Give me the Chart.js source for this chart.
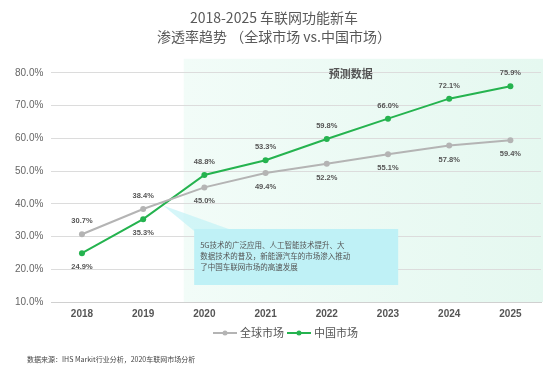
<!DOCTYPE html>
<html><head><meta charset="utf-8">
<script src="https://cdn.jsdelivr.net/npm/chart.js@4/dist/chart.umd.min.js"></script>
<style>html,body{margin:0;padding:0;background:#fff}#wrap{width:550px;height:379px}</style>
</head><body><div id="wrap"><canvas id="c" width="550" height="379"></canvas></div>
<script>
const years = ['2018','2019','2020','2021','2022','2023','2024','2025'];
const globalMarket = [30.7, 38.4, 45.0, 49.4, 52.2, 55.1, 57.8, 59.4];
const chinaMarket = [24.9, 35.3, 48.8, 53.3, 59.8, 66.0, 72.1, 75.9];
const yTicks = [10, 20, 30, 40, 50, 60, 70, 80];
const titleLines = ['2018-2025 车联网功能新车', '渗透率趋势 （全球市场 vs.中国市场）'];
const seriesNames = ['全球市场', '中国市场'];
const seriesColors = ['#b4b4b4', '#25b34f'];
const forecastLabel = '预测数据';
const calloutLines = ['5G技术的广泛应用、人工智能技术提升、大', '数据技术的普及，新能源汽车的市场渗入推动', '了中国车联网市场的高速发展'];
const sourceText = '数据来源：IHS Markit行业分析，2020车联网市场分析';
// label placement: true = above point
const globalAbove = [true, true, false, false, false, false, false, false];
const chinaAbove = [false, false, true, true, true, true, true, true];

const FONT = "'Liberation Sans', Arial, 'Noto Sans CJK SC', sans-serif";
const CJK = "'Noto Sans CJK SC', 'Liberation Sans', sans-serif";

const decor = {
  id: 'decor',
  beforeDraw(chart) {
    const ctx = chart.ctx, a = chart.chartArea, x = chart.scales.x;
    const x0 = (x.getPixelForValue(1) + x.getPixelForValue(2)) / 2 + 10;
    const x1 = a.right + 2;
    ctx.save();
    const g = ctx.createLinearGradient(x0, 0, x1, 0);
    g.addColorStop(0, 'rgba(242,252,248,1)');
    g.addColorStop(1, 'rgba(229,248,240,1)');
    ctx.fillStyle = g;
    ctx.fillRect(x0, a.top - 14, x1 - x0, a.bottom - a.top + 14);
    ctx.restore();
  },
  beforeDatasetsDraw(chart) {
    const ctx = chart.ctx, a = chart.chartArea, x = chart.scales.x, y = chart.scales.y;
    ctx.save();
    // forecast label
    ctx.fillStyle = '#555';
    ctx.font = 'bold 11px ' + CJK;
    ctx.textAlign = 'center'; ctx.textBaseline = 'middle';
    ctx.fillText(forecastLabel, x.getPixelForValue(4) + 24, a.top + 1);
    // callout
    const bx = x.getPixelForValue(1) + 51, by = y.getPixelForValue(32.3);
    const bw = 204, bh = 56;
    ctx.fillStyle = 'rgba(191,241,246,0.65)';
    ctx.beginPath();
    ctx.moveTo(x.getPixelForValue(1) + 20, y.getPixelForValue(39.5));
    ctx.lineTo(bx, by + 2);
    ctx.lineTo(bx + 40, by + 2);
    ctx.closePath();
    ctx.fill();
    ctx.fillStyle = '#bff1f6';
    ctx.fillRect(bx, by, bw, bh);
    ctx.fillStyle = '#555';
    ctx.font = '7.5px ' + CJK;
    ctx.textAlign = 'left'; ctx.textBaseline = 'middle';
    calloutLines.forEach((t, i) => ctx.fillText(t, bx + 6, by + 16 + i * 11));
    ctx.restore();
  },
  afterDatasetsDraw(chart) {
    const ctx = chart.ctx;
    ctx.save();
    ctx.font = 'bold 7.5px ' + FONT;
    ctx.fillStyle = '#555';
    ctx.textAlign = 'center'; ctx.textBaseline = 'middle';
    const sets = [[globalMarket, globalAbove], [chinaMarket, chinaAbove]];
    sets.forEach(([vals, above], di) => {
      const meta = chart.getDatasetMeta(di);
      meta.data.forEach((pt, i) => {
        const dy = above[i] ? -13 : 14;
        ctx.fillText(vals[i].toFixed(1) + '%', pt.x, pt.y + dy);
      });
    });
    // legend
    ctx.font = '11px ' + CJK;
    ctx.textAlign = 'left';
    const ly = 333;
    let lx = 213;
    seriesNames.forEach((name, i) => {
      ctx.strokeStyle = seriesColors[i]; ctx.fillStyle = seriesColors[i];
      ctx.lineWidth = 2;
      ctx.beginPath(); ctx.moveTo(lx, ly); ctx.lineTo(lx + 24, ly); ctx.stroke();
      ctx.beginPath(); ctx.arc(lx + 12, ly, 2.5, 0, Math.PI * 2); ctx.fill();
      ctx.fillStyle = '#555';
      ctx.fillText(name, lx + 27, ly);
      lx += 27 + ctx.measureText(name).width + 3;
    });
    // source
    ctx.font = '7px ' + CJK;
    ctx.fillStyle = '#444';
    ctx.fillText(sourceText, 27, 359);
    ctx.restore();
  }
};

new Chart(document.getElementById('c'), {
  type: 'line',
  data: {
    labels: years,
    datasets: [
      { label: seriesNames[0], data: globalMarket, borderColor: seriesColors[0], backgroundColor: seriesColors[0],
        borderWidth: 2, pointRadius: 3, pointBackgroundColor: seriesColors[0], pointBorderWidth: 0, tension: 0 },
      { label: seriesNames[1], data: chinaMarket, borderColor: seriesColors[1], backgroundColor: seriesColors[1],
        borderWidth: 2, pointRadius: 3, pointBackgroundColor: seriesColors[1], pointBorderWidth: 0, tension: 0 }
    ]
  },
  options: {
    responsive: false,
    animation: false,
    devicePixelRatio: 1,
    layout: { padding: { left: 7, right: 9, top: 0, bottom: 53 } },
    plugins: {
      title: { display: true, text: titleLines, color: '#595959',
        font: { family: CJK, size: 14, weight: 'normal', lineHeight: 1.35 },
        padding: { top: 8, bottom: 27 } },
      legend: { display: false },
      tooltip: { enabled: false }
    },
    scales: {
      x: { offset: true, grid: { display: false, drawTicks: false }, border: { color: '#d0d0d0' },
        ticks: { color: '#555', font: { family: FONT, size: 10, weight: 'bold' }, padding: 6 } },
      y: { min: 10, max: 80, afterBuildTicks(s) { s.ticks = yTicks.map(v => ({ value: v })); },
        grid: { color: '#dcdcdc', drawTicks: false }, border: { display: false },
        ticks: { color: '#666', font: { family: FONT, size: 10 }, padding: 8,
          callback: v => v.toFixed(1) + '%' } }
    }
  },
  plugins: [decor]
});
</script></body></html>
